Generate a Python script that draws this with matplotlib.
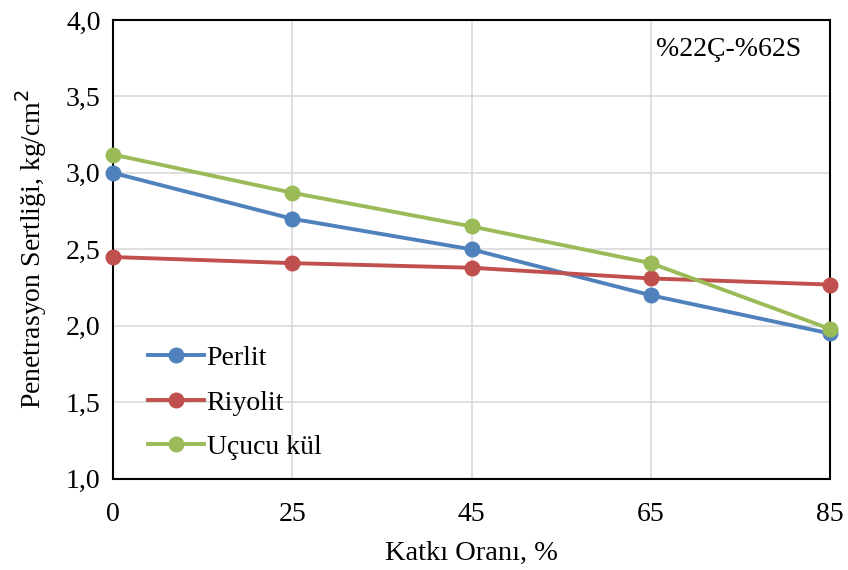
import matplotlib.pyplot as plt
from matplotlib.ticker import FuncFormatter

plt.rcParams['font.family'] = ['Liberation Serif', 'DejaVu Serif']

# data
categories = ["0", "25", "45", "65", "85"]
perlit = [3.00, 2.70, 2.50, 2.20, 1.95]
riyolit = [2.45, 2.41, 2.38, 2.31, 2.27]
ucucu_kul = [3.12, 2.87, 2.65, 2.41, 1.98]

series = [
    ("Perlit", perlit, "#4F81BD"),
    ("Riyolit", riyolit, "#C0504D"),
    ("Uçucu kül", ucucu_kul, "#9BBB59"),
]

fig = plt.figure(figsize=(8.48, 5.70), dpi=100)
ax = fig.add_axes([0.1333, 0.16, 0.8455, 0.805])

x = list(range(len(categories)))
for name, vals, color in series:
    ax.plot(x, vals, color=color, lw=2.8, marker="o", ms=10.5, label=name,
            clip_on=False, zorder=3)

ax.set_xlim(0, len(categories) - 1)
ax.set_ylim(1.0, 4.0)
ax.set_xticks(x)
ax.set_xticklabels(categories)
ax.set_yticks([1.0, 1.5, 2.0, 2.5, 3.0, 3.5, 4.0])
ax.yaxis.set_major_formatter(FuncFormatter(lambda v, p: f"{v:.1f}".replace(".", ",")))
ax.tick_params(labelsize=20, length=0)
ax.tick_params(axis="y", pad=9)
ax.tick_params(axis="x", pad=17)

ax.grid(True, color="#D9D9D9", lw=1.2)
ax.set_axisbelow(True)
for s in ax.spines.values():
    s.set_color("black")
    s.set_linewidth(1.5)

ax.set_xlabel("Katkı Oranı, %", fontsize=20.5, labelpad=10)
ax.set_ylabel("Penetrasyon Sertliği, kg/cm$^{2}$", fontsize=20, labelpad=12)

ax.text(0.96, 0.935, "%22Ç-%62S", transform=ax.transAxes, fontsize=20,
        ha="right", va="center")

ax.legend(loc="upper left", bbox_to_anchor=(0.049, 0.29), frameon=False,
          fontsize=20, handlelength=2.0, labelspacing=0.68, borderaxespad=0,
          borderpad=0, handletextpad=0.1)

fig.savefig("out.png", dpi=100)
